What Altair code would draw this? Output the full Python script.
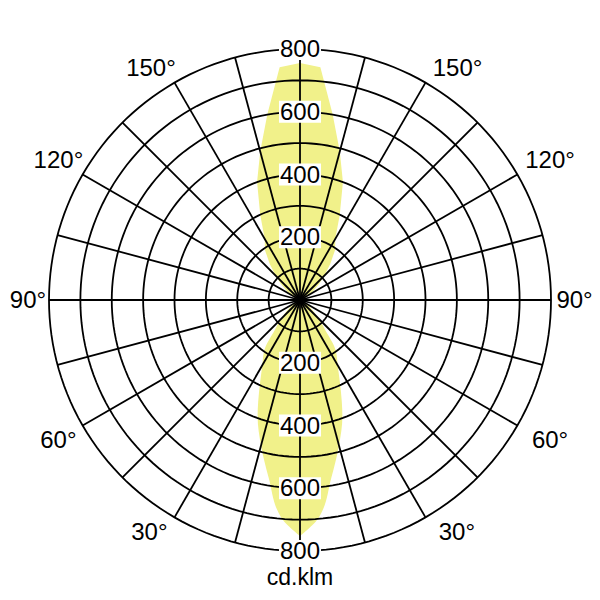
import math
import altair as alt
import pandas as pd

# ---- data ----
angles_deg = [0, 5, 10, 15, 20, 25, 30, 35, 40, 45, 50, 60, 70, 80, 90]
upper_cd = [755, 745, 600, 490, 400, 300, 225, 195, 150, 110, 80, 40, 15, 5, 0]   # C180 half (up)
lower_cd = [752, 695, 575, 480, 395, 305, 240, 200, 125, 85, 55, 25, 10, 3, 0]    # C0 half (down)

ring_values = [100, 200, 300, 400, 500, 600, 700, 800]
ring_labels = [200, 400, 600, 800]
spoke_step = 15
angle_label_text = ["90°", "120°", "150°", "90°", "120°", "150°", "60°", "30°", "60°", "30°"]
angle_label_x = [-867, -770, -475, 875, 797, 502, -770, -480, 797, 500]
angle_label_y = [0, 446, 738, 0, 446, 738, -446, -738, -446, -738]
unit_text = "cd.klm"

R_MAX = 800
PX_PER_UNIT = 251 / 800
SIZE = 584
D = (SIZE / 2) / PX_PER_UNIT
FONT = "Liberation Sans"
LOBE_COLOR = "#f1f18a"

xs = alt.Scale(domain=[-D, D], nice=False, zero=False)
ys = alt.Scale(domain=[-D, D], nice=False, zero=False)


def lobe_chart(vals, sgn, interp):
    rows = []
    for a, v in zip(angles_deg, vals):
        t = math.radians(a)
        rows.append({"y": sgn * v * math.cos(t),
                     "xl": -v * math.sin(t), "xr": v * math.sin(t)})
    df = pd.DataFrame(rows).sort_values("y")
    return alt.Chart(df).mark_area(orient="horizontal", color=LOBE_COLOR, opacity=1,
                                   strokeWidth=0, interpolate=interp).encode(
        y=alt.Y("y:Q", scale=ys, axis=None),
        x=alt.X("xl:Q", scale=xs, axis=None, stack=None),
        x2="xr:Q",
    )


lobe_up = lobe_chart(upper_cd, 1, "linear")
lobe_down = lobe_chart(lower_cd, -1, "monotone")

# rings
ring_rows = []
for r in ring_values:
    for i in range(0, 361, 2):
        t = math.radians(i)
        ring_rows.append({"ring": r, "i": i, "x": r * math.sin(t), "y": r * math.cos(t)})
rings = alt.Chart(pd.DataFrame(ring_rows)).mark_line(color="black", strokeWidth=1.8).encode(
    x=alt.X("x:Q", scale=xs, axis=None),
    y=alt.Y("y:Q", scale=ys, axis=None),
    detail="ring:N",
    order="i:Q",
)

# spokes
spoke_rows = []
for a in range(0, 360, spoke_step):
    t = math.radians(a)
    spoke_rows.append({"x": 0.0, "y": 0.0, "x2": R_MAX * math.sin(t), "y2": R_MAX * math.cos(t)})
spokes = alt.Chart(pd.DataFrame(spoke_rows)).mark_rule(color="black", strokeWidth=1.8).encode(
    x=alt.X("x:Q", scale=xs, axis=None),
    y=alt.Y("y:Q", scale=ys, axis=None),
    x2="x2:Q",
    y2="y2:Q",
)

# value labels with white boxes (top and bottom)
lab_rows = []
for v in ring_labels:
    for sgn in (1, -1):
        lab_rows.append({"t": str(v), "x": 0.0, "y": sgn * v,
                         "bx1": -67, "bx2": 67, "by1": sgn * v - 35, "by2": sgn * v + 35})
lab_df = pd.DataFrame(lab_rows)
boxes = alt.Chart(lab_df).mark_rect(color="white").encode(
    x=alt.X("bx1:Q", scale=xs, axis=None), x2="bx2:Q",
    y=alt.Y("by1:Q", scale=ys, axis=None), y2="by2:Q",
)
vlabels = alt.Chart(lab_df).mark_text(font=FONT, fontSize=24, color="black",
                                      baseline="middle", align="center", dy=1).encode(
    x=alt.X("x:Q", scale=xs, axis=None),
    y=alt.Y("y:Q", scale=ys, axis=None),
    text="t:N",
)

# angle labels
ang_df = pd.DataFrame({"t": angle_label_text, "x": angle_label_x, "y": angle_label_y})
alabels = alt.Chart(ang_df).mark_text(font=FONT, fontSize=24, color="black",
                                      baseline="middle", align="center", dy=1).encode(
    x=alt.X("x:Q", scale=xs, axis=None),
    y=alt.Y("y:Q", scale=ys, axis=None),
    text="t:N",
)

unit_df = pd.DataFrame({"t": [unit_text], "x": [0.0], "y": [-886.0]})
ulabel = alt.Chart(unit_df).mark_text(font=FONT, fontSize=23, color="black",
                                      baseline="middle", align="center").encode(
    x=alt.X("x:Q", scale=xs, axis=None),
    y=alt.Y("y:Q", scale=ys, axis=None),
    text="t:N",
)

chart = alt.layer(lobe_up, lobe_down, rings, spokes, boxes, vlabels, alabels, ulabel).properties(
    width=SIZE, height=SIZE, padding=0,
    autosize=alt.AutoSizeParams(type="none"),
    background="white",
).configure_view(stroke=None)

chart.save("out.html", embed_options={"renderer": "svg", "actions": False})
